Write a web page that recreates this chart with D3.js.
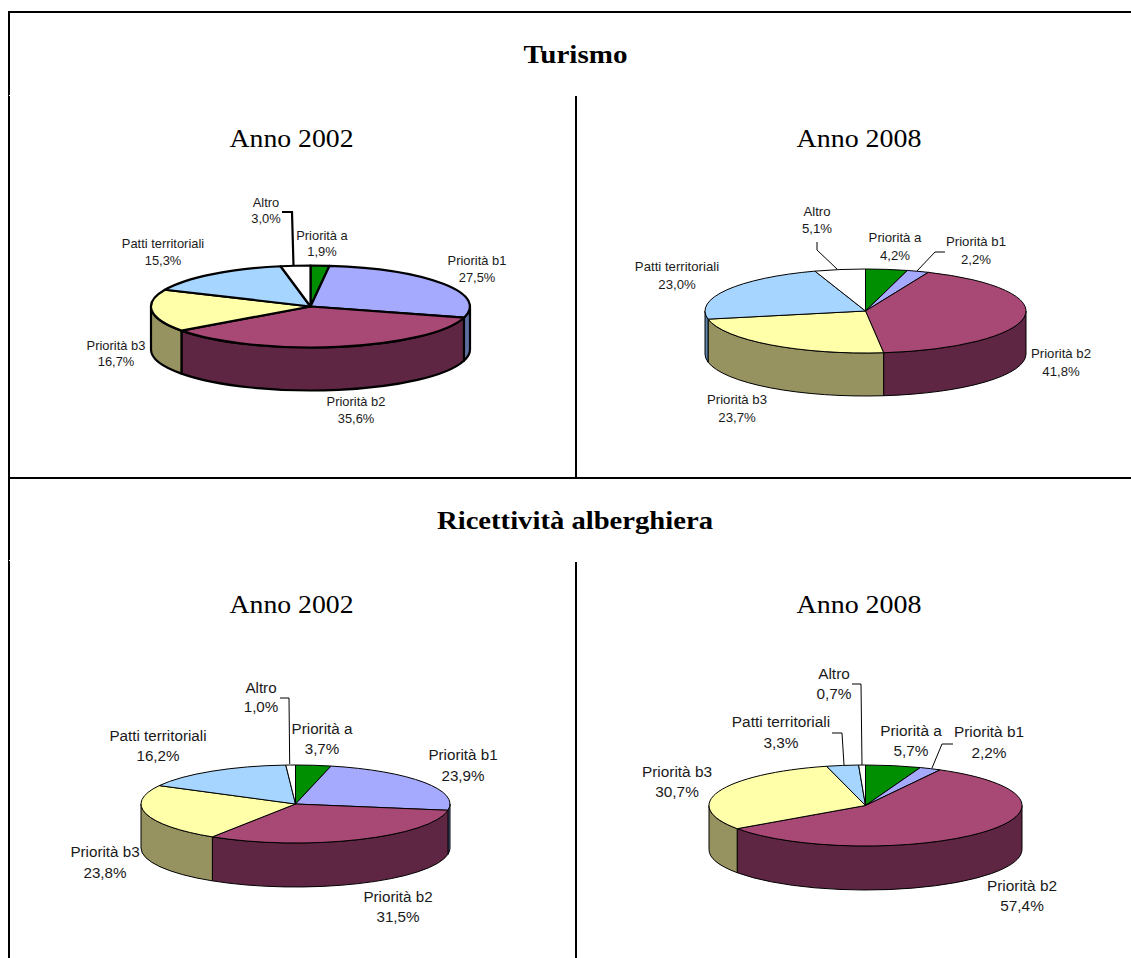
<!DOCTYPE html>
<html><head><meta charset="utf-8">
<style>
html,body{margin:0;padding:0;background:#fff;overflow:hidden}
svg{display:block}
.lab{font-family:"Liberation Sans",Arial,sans-serif;fill:#1a1a1a;text-anchor:middle;dominant-baseline:central}
.head{font-family:"Liberation Serif",serif;fill:#000;text-anchor:middle}
</style></head><body>
<svg id="c" width="1131" height="958"></svg>
<script src="https://cdn.jsdelivr.net/npm/d3@7/dist/d3.min.js"></script>
<script>
// ---- data ----
const categories = ["Priorità a","Priorità b1","Priorità b2","Priorità b3","Patti territoriali","Altro"];
const turismo2002 = [1.9,27.5,35.6,16.7,15.3,3.0];
const turismo2008 = [4.2,2.2,41.8,23.7,23.0,5.1];
const ricett2002  = [3.7,23.9,31.5,23.8,16.2,1.0];
const ricett2008  = [5.7,2.2,57.4,30.7,3.3,0.7];
const sectionTitles = ["Turismo","Ricettività alberghiera"];
const panelTitles = ["Anno 2002","Anno 2008"];

// ---- style ----
const topColors  = ["#008f00","#a6aaff","#a84874","#ffffaa","#a6d5ff","#ffffff"];
const wallColors = ["#005500","#5f6fa0","#5e2643","#969360","#5a85ad","#bbbbbb"];

// ---- layout ----
const labelShift = -1;
const panels = [
 {values:turismo2002,cx:310.5,cy:306.5,rx:159.5,ry:41,depth:43,sw:2.2,fs:12.9,
  labels:[[322,236,252],[477,261,278],[356,402,419],[116,346,362],[163,244,261],[266,203,219]],
  leaders:[[[282,212],[292,212],[293.5,266]]]},
 {values:turismo2008,cx:865.5,cy:311,rx:160.5,ry:42,depth:43,sw:1,fs:13.2,
  labels:[[895,238,256],[976,242,260],[1061,354,372],[737,400,418],[677,267,285],[817,212,229]],
  leaders:[[[817,242],[817,250],[837,269]],[[945,252],[935,252],[917,271]]]},
 {values:ricett2002,cx:295.5,cy:804,rx:154.5,ry:39,depth:44,sw:1,fs:15.2,
  labels:[[322,729,749],[463,755,776],[398,897,917],[105,852,873],[158,736,756],[261,688,707]],
  leaders:[[[280,698],[289,698],[289.7,764]]]},
 {values:ricett2008,cx:865.5,cy:805.5,rx:156.5,ry:40.5,depth:44,sw:1,fs:15.4,
  labels:[[911,731,751],[989,732,753],[1022,886,906],[677,772,792],[781,722,743],[834,674,694]],
  leaders:[[[852,684],[861,684],[862,765]],[[832,733],[842,733],[844,765]],[[953,744],[942,744],[932,768]]]}
];
const headings = [
 {t:sectionTitles[0],x:575.5,y:63,w:104,fs:25,bold:true},
 {t:sectionTitles[1],x:575,y:529,w:276,fs:25,bold:true},
 {t:panelTitles[0],x:291.5,y:147,w:124,fs:26},
 {t:panelTitles[1],x:859,y:147,w:125,fs:26},
 {t:panelTitles[0],x:291.5,y:613,w:124,fs:26},
 {t:panelTitles[1],x:859,y:613,w:125,fs:26}
];
const rules = [[9,11,9,958],[8,12,1131,12],[8,478,1131,478],[576,96,576,477],[576,562,576,958]];
const notches = [95,560];

const svg = d3.select("#c");
const pie = d3.pie().sort(null).value(d=>d);
const arc = d3.arc().innerRadius(0);

panels.forEach(p=>{
  const arcs = pie(p.values);
  const g = svg.append("g");
  const k = p.ry/p.rx;
  const px = a=>p.cx+p.rx*Math.sin(a), py = a=>p.cy-p.ry*Math.cos(a);
  const lo=Math.PI/2, hi=3*Math.PI/2;
  // side walls (front half of the ellipse)
  arcs.forEach((d,i)=>{
    const a0=Math.max(d.startAngle,lo), a1=Math.min(d.endAngle,hi);
    if(a1<=a0) return;
    const large=(a1-a0)>Math.PI?1:0;
    const path=`M${px(a0)},${py(a0)}A${p.rx},${p.ry} 0 ${large} 1 ${px(a1)},${py(a1)}`+
      `L${px(a1)},${py(a1)+p.depth}A${p.rx},${p.ry} 0 ${large} 0 ${px(a0)},${py(a0)+p.depth}Z`;
    g.append("path").attr("d",path).attr("fill",wallColors[i])
      .attr("stroke","#000").attr("stroke-width",p.sw).attr("stroke-linejoin","round");
  });
  // top face
  const top = g.append("g").attr("transform",`translate(${p.cx},${p.cy}) scale(1,${k})`);
  top.selectAll("path").data(arcs).join("path")
    .attr("d",d=>arc.outerRadius(p.rx)(d))
    .attr("fill",(d,i)=>topColors[i])
    .attr("stroke","#000").attr("stroke-width",p.sw)
    .attr("stroke-linejoin","round")
    .attr("vector-effect","non-scaling-stroke");
  // leader lines
  const line=d3.line();
  p.leaders.forEach(l=>g.append("path").attr("d",line(l)).attr("fill","none")
    .attr("stroke","#000").attr("stroke-width",p.sw));
  // labels
  p.labels.forEach((l,i)=>{
    const t=g.append("g").style("font-size",p.fs+"px");
    t.append("text").attr("class","lab").attr("x",l[0]).attr("y",l[1]+labelShift).text(categories[i]);
    t.append("text").attr("class","lab").attr("x",l[0]).attr("y",l[2]+labelShift)
      .text(p.values[i].toFixed(1).replace(".",",")+"%");
  });
});

// table rules
svg.append("g").selectAll("line").data(rules).join("line")
  .attr("x1",d=>d[0]).attr("y1",d=>d[1]).attr("x2",d=>d[2]).attr("y2",d=>d[3])
  .attr("stroke","#000").attr("stroke-width",2);
svg.append("g").selectAll("rect").data(notches).join("rect")
  .attr("x",9).attr("y",d=>d).attr("width",1).attr("height",1).attr("fill","#fff");

// headings
svg.append("g").selectAll("text").data(headings).join("text")
  .attr("class","head").attr("x",d=>d.x).attr("y",d=>d.y)
  .attr("textLength",d=>d.w).attr("lengthAdjust","spacingAndGlyphs")
  .style("font-size",d=>d.fs+"px").style("font-weight",d=>d.bold?"700":"400")
  .text(d=>d.t);
</script>
</body></html>
